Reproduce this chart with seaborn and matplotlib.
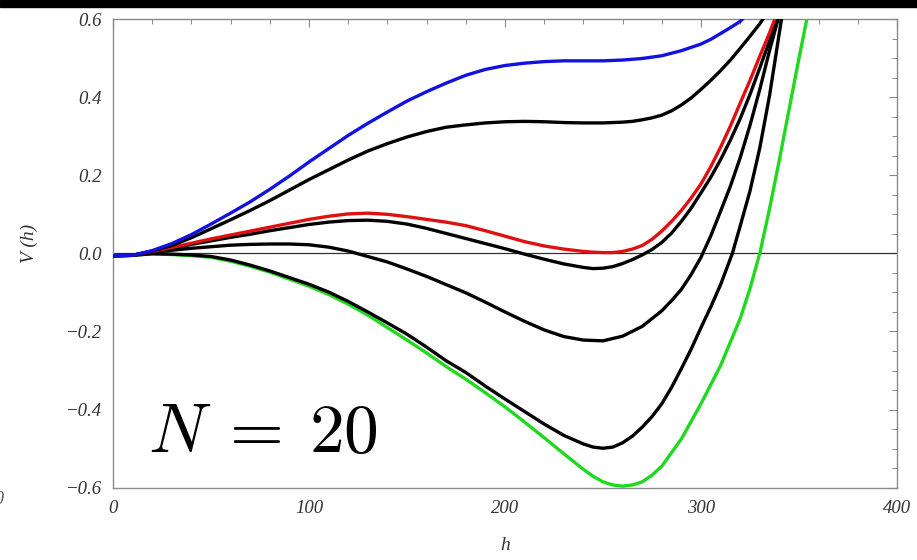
import matplotlib
matplotlib.use("Agg")
import matplotlib.pyplot as plt
from matplotlib.patches import Rectangle
from matplotlib.ticker import MultipleLocator
import pandas as pd
import seaborn as sns

# Effective potential V(h) for several parameter choices
h_blue = [0, 10, 20, 30, 40, 50, 60, 70, 80, 90, 100, 110, 120, 130, 140, 150, 160, 170,
          180, 190, 200, 210, 220, 230, 240, 250, 260, 270, 280, 290, 300, 305, 310, 315,
          320, 326]
v_blue = [-0.006, -0.005, 0.007, 0.025, 0.048, 0.075, 0.103, 0.132, 0.164, 0.198, 0.234,
          0.268, 0.302, 0.333, 0.362, 0.390, 0.414, 0.436, 0.456, 0.471, 0.481, 0.487,
          0.491, 0.493, 0.493, 0.493, 0.495, 0.499, 0.506, 0.519, 0.536, 0.548, 0.563,
          0.578, 0.594, 0.625]

h_black1 = [0, 10, 20, 30, 40, 50, 60, 70, 80, 90, 100, 110, 120, 130, 140, 150, 160, 170,
            180, 190, 200, 210, 220, 230, 240, 250, 260, 265, 270, 275, 280, 285, 290, 295,
            300, 305, 310, 315, 320, 325, 330, 335]
v_black1 = [-0.006, -0.005, 0.006, 0.020, 0.040, 0.063, 0.086, 0.110, 0.135, 0.162, 0.189,
            0.214, 0.239, 0.262, 0.281, 0.298, 0.312, 0.323, 0.329, 0.334, 0.337, 0.338,
            0.337, 0.335, 0.334, 0.334, 0.336, 0.338, 0.342, 0.347, 0.354, 0.365, 0.380,
            0.398, 0.420, 0.443, 0.468, 0.495, 0.525, 0.556, 0.588, 0.625]

h_red = [0, 10, 20, 30, 40, 50, 60, 70, 80, 90, 100, 110, 120, 130, 140, 150, 160, 170,
         180, 190, 200, 210, 220, 230, 240, 245, 250, 255, 260, 265, 270, 275, 280, 285,
         290, 295, 300, 305, 310, 315, 320, 325, 330, 335, 340]
v_red = [-0.006, -0.005, 0.005, 0.015, 0.026, 0.037, 0.047, 0.057, 0.067, 0.077, 0.087,
         0.095, 0.101, 0.103, 0.100, 0.094, 0.087, 0.080, 0.071, 0.058, 0.044, 0.030,
         0.019, 0.011, 0.005, 0.003, 0.002, 0.002, 0.005, 0.011, 0.020, 0.036, 0.057,
         0.082, 0.110, 0.142, 0.178, 0.222, 0.272, 0.326, 0.385, 0.443, 0.505, 0.565, 0.630]

h_black2 = [0, 10, 20, 30, 40, 50, 60, 70, 80, 90, 100, 110, 120, 130, 140, 150, 160, 170,
            180, 190, 200, 210, 220, 230, 240, 245, 250, 255, 260, 265, 270, 275, 280, 285,
            290, 295, 300, 305, 310, 315, 320, 325, 330, 335, 340]
v_black2 = [-0.006, -0.005, 0.005, 0.013, 0.023, 0.032, 0.041, 0.049, 0.058, 0.066, 0.074,
            0.080, 0.084, 0.085, 0.082, 0.075, 0.064, 0.051, 0.038, 0.025, 0.012, -0.002,
            -0.015, -0.027, -0.036, -0.039, -0.038, -0.034, -0.026, -0.016, -0.004, 0.010,
            0.028, 0.052, 0.082, 0.116, 0.155, 0.195, 0.240, 0.290, 0.345, 0.407, 0.475,
            0.545, 0.620]

h_black3 = [0, 10, 20, 30, 40, 50, 60, 70, 80, 90, 100, 110, 120, 130, 140, 150, 160, 170,
            180, 190, 200, 210, 220, 230, 240, 250, 260, 270, 280, 285, 290, 295, 300, 305,
            310, 315, 320, 325, 330, 335, 341]
v_black3 = [-0.006, -0.005, 0.003, 0.008, 0.013, 0.017, 0.021, 0.023, 0.024, 0.024, 0.022,
            0.016, 0.006, -0.008, -0.022, -0.040, -0.059, -0.080, -0.101, -0.125, -0.150,
            -0.174, -0.196, -0.213, -0.222, -0.224, -0.212, -0.187, -0.147, -0.121, -0.092,
            -0.054, -0.010, 0.045, 0.108, 0.172, 0.245, 0.328, 0.420, 0.520, 0.630]

h_black4 = [0, 10, 20, 30, 40, 50, 60, 70, 80, 90, 100, 110, 120, 130, 140, 150, 160, 170,
            180, 190, 200, 210, 220, 230, 240, 245, 250, 255, 260, 265, 270, 275, 280, 285,
            290, 295, 300, 305, 310, 316, 320, 325, 330, 335, 342]
v_black4 = [-0.006, -0.005, -0.001, -0.002, -0.004, -0.008, -0.017, -0.030, -0.045, -0.062,
            -0.079, -0.099, -0.123, -0.150, -0.178, -0.207, -0.240, -0.275, -0.305, -0.340,
            -0.373, -0.405, -0.437, -0.466, -0.488, -0.496, -0.499, -0.496, -0.485, -0.468,
            -0.445, -0.418, -0.385, -0.343, -0.295, -0.245, -0.190, -0.137, -0.080, 0.000,
            0.070, 0.160, 0.270, 0.405, 0.630]

h_green = [0, 10, 20, 30, 40, 50, 60, 70, 80, 90, 100, 110, 120, 130, 140, 150, 160, 170,
           180, 190, 200, 210, 220, 230, 240, 245, 250, 255, 260, 265, 270, 275, 280, 290,
           300, 310, 320, 325, 330, 335, 340, 345, 350, 356]
v_green = [-0.006, -0.005, -0.001, -0.003, -0.006, -0.010, -0.020, -0.033, -0.048, -0.066,
           -0.084, -0.105, -0.130, -0.158, -0.190, -0.222, -0.255, -0.290, -0.322, -0.357,
           -0.393, -0.432, -0.472, -0.513, -0.553, -0.571, -0.585, -0.593, -0.596, -0.593,
           -0.585, -0.568, -0.545, -0.475, -0.385, -0.287, -0.167, -0.090, 0.000, 0.115,
           0.240, 0.370, 0.500, 0.650]

curves = [
    ("green", h_green, v_green, "#1ed91e"),
    ("black4", h_black4, v_black4, "#000000"),
    ("black3", h_black3, v_black3, "#000000"),
    ("black2", h_black2, v_black2, "#000000"),
    ("red", h_red, v_red, "#e01010"),
    ("black1", h_black1, v_black1, "#000000"),
    ("blue", h_blue, v_blue, "#1212e0"),
]

sns.set_theme(style="white")
plt.rcParams["mathtext.fontset"] = "cm"
serif = ["Liberation Serif", "DejaVu Serif"]

fig = plt.figure(figsize=(9.17, 5.60), dpi=100)
ax = fig.add_axes([0.1232, 0.1291, 0.9782 - 0.1232, 0.966 - 0.1291])

ax.axhline(0, color="#333333", lw=0.9, zorder=1)

for i, (name, hs, vs, col) in enumerate(curves):
    df = pd.DataFrame({"h": hs, "V": vs})
    sns.lineplot(data=df, x="h", y="V", ax=ax, color=col, lw=2.4, sort=False,
                 estimator=None, zorder=3 + i)

ax.set_xlim(0, 400)
ax.set_ylim(-0.6, 0.6)
ax.xaxis.set_minor_locator(MultipleLocator(20))
ax.yaxis.set_minor_locator(MultipleLocator(0.05))

xt = [0, 100, 200, 300, 400]
ax.set_xticks(xt)
ax.set_xticklabels([str(v) for v in xt])
yt = [-0.6, -0.4, -0.2, 0.0, 0.2, 0.4, 0.6]
ax.set_yticks(yt)
ax.set_yticklabels([f"{v:.1f}".replace("-", "\u2212") for v in yt])

ax.tick_params(which="both", direction="in", top=True, right=True, colors="#888888",
               labelcolor="#333333", labelsize=13.5)
ax.tick_params(which="major", length=6, width=0.8)
ax.tick_params(which="minor", length=3.5, width=0.7)
ax.tick_params(axis="x", pad=9)
ax.tick_params(axis="y", pad=8)
for lab in ax.get_xticklabels() + ax.get_yticklabels():
    lab.set_family(serif)
    lab.set_style("italic")

for sp in ax.spines.values():
    sp.set_color("#8a8a8a")
    sp.set_linewidth(1.0)

ax.set_xlabel("h", family=serif, style="italic", fontsize=14, color="#333333", labelpad=14)
ax.set_ylabel("V (h)", family=serif, style="italic", fontsize=14, color="#333333")
ax.yaxis.set_label_coords(-0.095, 0.522)

ax.text(18, -0.509, r"$N\:=\:20$", fontsize=50, ha="left", va="baseline", color="black")

# dark band along the top edge and a clipped label fragment on the left edge
fig.patches.append(Rectangle((0, 1 - 7 / 560), 1, 7 / 560, transform=fig.transFigure,
                             color="black", zorder=10))
fig.text(-0.006, 1 - 500 / 560, "0", family=serif, style="italic", fontsize=13,
         color="#555555", va="center", ha="left")

fig.savefig("out.png", dpi=100)
